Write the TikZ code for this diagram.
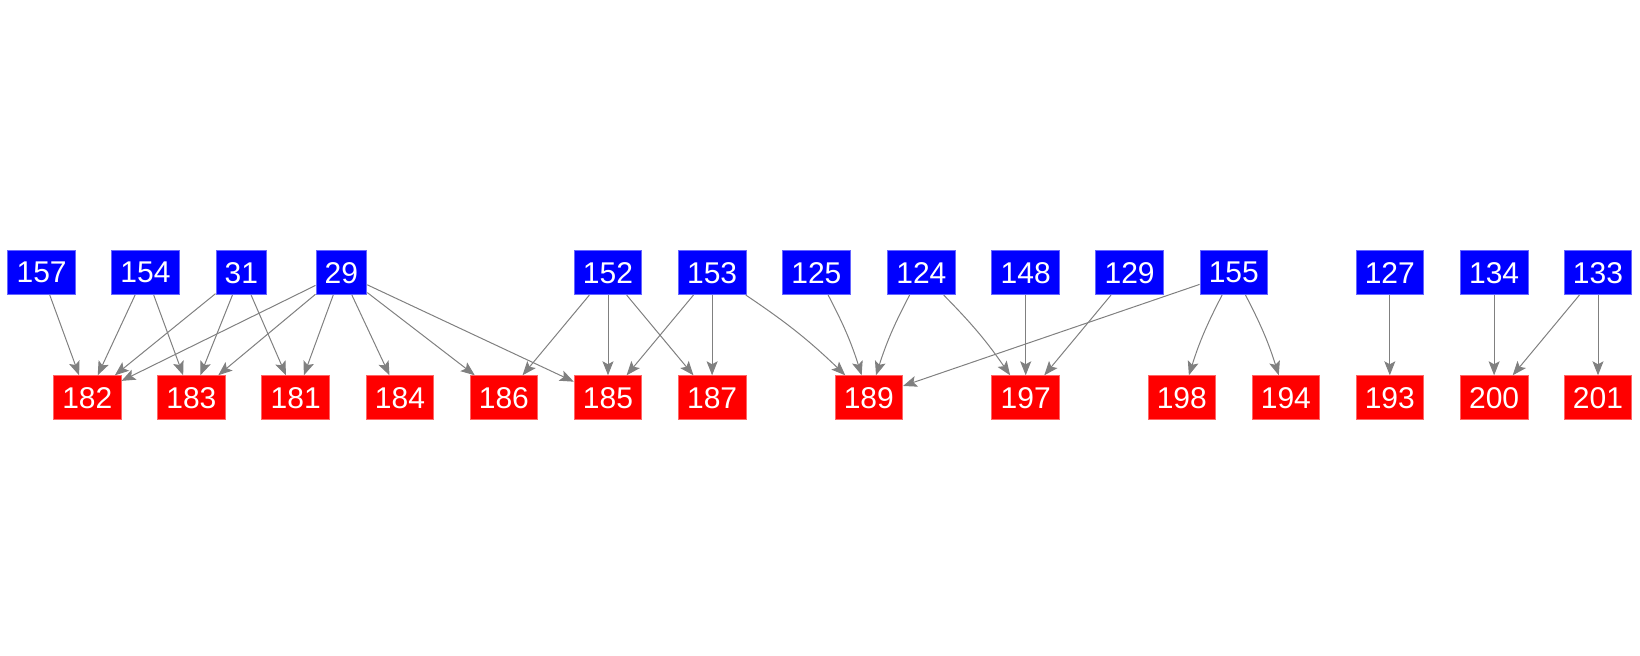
\documentclass[tikz,border=0pt]{standalone}
\usepackage{fontspec}
\setmainfont{Liberation Sans}
\usetikzlibrary{arrows.meta}

\tikzset{
  src/.style={fill=blue, draw=blue!60!white, line width=0.4pt, text=white,
    inner xsep=4.4pt, minimum height=22pt, font=\fontsize{15}{17}\selectfont},
  dst/.style={fill=red, draw=red!60!white, line width=0.4pt, text=white,
    inner xsep=4.4pt, minimum height=22pt, font=\fontsize{15}{17}\selectfont},
  link/.style={draw=gray, line width=0.5pt, -{Stealth[length=7pt,width=5.5pt,inset=1.5pt]}}
}

\begin{document}
\begin{tikzpicture}[x=0.5pt,y=-0.5pt]
  \useasboundingbox (0,0) rectangle (1640,656);

  % upper row
  \node[src] (b157) at (41.6,272.7) {157};
  \node[src] (b154) at (145.5,272.7) {154};
  \node[src] (b31) at (241.4,272.7) {31};
  \node[src] (b29) at (341.4,272.7) {29};
  \node[src] (b152) at (608,272.7) {152};
  \node[src] (b153) at (712.1,272.7) {153};
  \node[src] (b125) at (816.4,272.7) {125};
  \node[src] (b124) at (921.4,272.7) {124};
  \node[src] (b148) at (1025.7,272.7) {148};
  \node[src] (b129) at (1129.6,272.7) {129};
  \node[src] (b155) at (1233.8,272.7) {155};
  \node[src] (b127) at (1389.8,272.7) {127};
  \node[src] (b134) at (1494.1,272.7) {134};
  \node[src] (b133) at (1598,272.7) {133};

  % lower row
  \node[dst] (r182) at (87.3,397.7) {182};
  \node[dst] (r183) at (191.4,397.7) {183};
  \node[dst] (r181) at (295.7,397.7) {181};
  \node[dst] (r184) at (400,397.7) {184};
  \node[dst] (r186) at (503.9,397.7) {186};
  \node[dst] (r185) at (608,397.7) {185};
  \node[dst] (r187) at (712.1,397.7) {187};
  \node[dst] (r189) at (868.8,397.7) {189};
  \node[dst] (r197) at (1025.7,397.7) {197};
  \node[dst] (r198) at (1181.8,397.7) {198};
  \node[dst] (r194) at (1285.9,397.7) {194};
  \node[dst] (r193) at (1389.8,397.7) {193};
  \node[dst] (r200) at (1494.1,397.7) {200};
  \node[dst] (r201) at (1598,397.7) {201};

  % links
  \draw[link] (b157) -- (r182);
  \draw[link] (b154) -- (r182);
  \draw[link] (b154) -- (r183);
  \draw[link] (b31) -- (r182);
  \draw[link] (b31) -- (r183);
  \draw[link] (b31) -- (r181);
  \draw[link] (b29) -- (r182);
  \draw[link] (b29) -- (r183);
  \draw[link] (b29) -- (r181);
  \draw[link] (b29) -- (r184);
  \draw[link] (b29) -- (r186);
  \draw[link] (b29) -- (r185);
  \draw[link] (b152) -- (r186);
  \draw[link] (b152) -- (r185);
  \draw[link] (b152) -- (r187);
  \draw[link] (b153) -- (r185);
  \draw[link] (b153) -- (r187);
  \draw[link] (b153) to[bend left=5] (r189);
  \draw[link] (b125) to[bend left=5] (r189);
  \draw[link] (b124) to[bend right=5] (r189);
  \draw[link] (b124) to[bend left=5] (r197);
  \draw[link] (b148) -- (r197);
  \draw[link] (b129) -- (r197);
  \draw[link] (b155) -- (r189);
  \draw[link] (b155) to[bend right=5] (r198);
  \draw[link] (b155) to[bend left=5] (r194);
  \draw[link] (b127) -- (r193);
  \draw[link] (b134) -- (r200);
  \draw[link] (b133) -- (r200);
  \draw[link] (b133) -- (r201);
\end{tikzpicture}
\end{document}
